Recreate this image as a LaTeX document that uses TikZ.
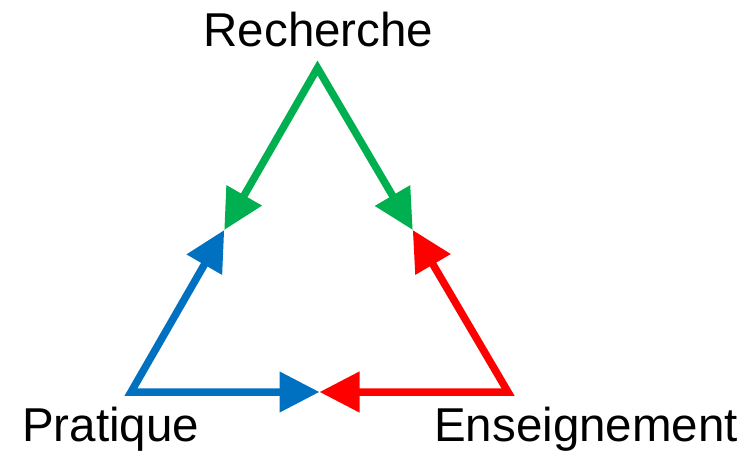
\documentclass[tikz,border=0pt]{standalone}
\usepackage{fontspec}
\setmainfont{Liberation Sans}
\usetikzlibrary{arrows.meta,calc}
\definecolor{rgreen}{HTML}{00B050}
\definecolor{rblue}{HTML}{0070C0}
\definecolor{rred}{HTML}{FF0000}
\tikzset{
  bothside/.style={line width=7.5pt, line join=miter, miter limit=10,
    arrows={Triangle[length=40pt,width=39pt]-Triangle[length=40pt,width=39pt]}},
  lbl/.style={inner sep=0pt, font=\fontsize{47.5}{52}\selectfont, text=black}
}
\begin{document}
\begin{tikzpicture}[x=1pt,y=-1pt]
\path[use as bounding box] (0,0) rectangle (751,455);
\coordinate (T) at (317.5,68);
\coordinate (L) at (131,392);
\coordinate (R) at (508,392);
\coordinate (ML) at ($(T)!0.5!(L)$);
\coordinate (MR) at ($(T)!0.5!(R)$);
\coordinate (MB) at ($(L)!0.5!(R)$);
\draw[bothside, rgreen] (ML) -- (T) -- (MR);
\draw[bothside, rblue] (ML) -- (L) -- (MB);
\draw[bothside, rred] (MB) -- (R) -- (MR);
\node[lbl, anchor=base] (rech) at (318.5,46) {Recherche};
\node[lbl, anchor=base west] (prat) at (22,441) {Pratique};
\node[lbl, anchor=base west] (ens) at (434,441) {Enseignement};
\end{tikzpicture}
\end{document}
